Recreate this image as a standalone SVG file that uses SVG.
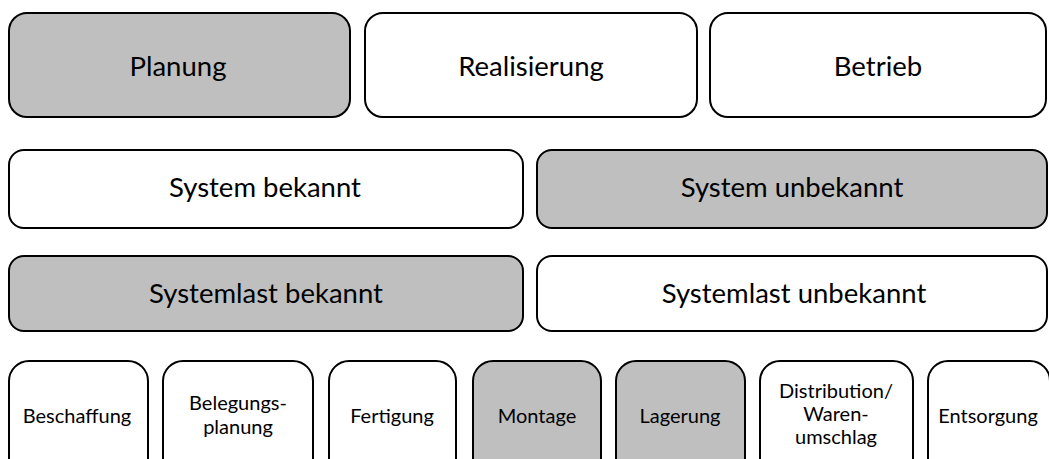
<svg xmlns="http://www.w3.org/2000/svg" width="1049" height="459" viewBox="0 0 1049 459">
  <style>
    .box { stroke: #000; stroke-width: 2; }
    .on { fill: #bfbfbf; }
    .off { fill: #ffffff; }
    text { font-family: Lato, "Open Sans", sans-serif; fill: #000; text-anchor: middle; }
    .big { font-size: 27.5px; }
    .small { font-size: 20px; }
  </style>
  <rect width="1049" height="459" fill="#fff"/>

  <!-- phases -->
  <g id="planung"><rect class="box on" x="9" y="13" width="341" height="104" rx="18"/><text class="big" x="178" y="76">Planung</text></g>
  <g id="realisierung"><rect class="box off" x="365" y="13" width="332" height="104" rx="18"/><text class="big" x="531" y="76">Realisierung</text></g>
  <g id="betrieb"><rect class="box off" x="710" y="13" width="336" height="104" rx="18"/><text class="big" x="878" y="76">Betrieb</text></g>

  <!-- system -->
  <g id="system-bekannt"><rect class="box off" x="9" y="150" width="514" height="78" rx="15"/><text class="big" x="265" y="197">System bekannt</text></g>
  <g id="system-unbekannt"><rect class="box on" x="537" y="150" width="510" height="78" rx="15"/><text class="big" x="792" y="197">System unbekannt</text></g>

  <!-- system load -->
  <g id="systemlast-bekannt"><rect class="box on" x="9" y="256" width="514" height="75" rx="15"/><text class="big" x="266" y="303">Systemlast bekannt</text></g>
  <g id="systemlast-unbekannt"><rect class="box off" x="537" y="256" width="510" height="75" rx="15"/><text class="big" x="794" y="303">Systemlast unbekannt</text></g>

  <!-- logistics areas -->
  <g id="beschaffung"><rect class="box off" x="9" y="361" width="139" height="130" rx="20"/><text class="small" x="77" y="423">Beschaffung</text></g>
  <g id="belegungsplanung"><rect class="box off" x="163" y="361" width="150" height="130" rx="20"/><text class="small" x="238" y="410">Belegungs-</text><text class="small" x="238" y="434">planung</text></g>
  <g id="fertigung"><rect class="box off" x="329" y="361" width="127" height="130" rx="20"/><text class="small" x="392" y="423">Fertigung</text></g>
  <g id="montage"><rect class="box on" x="473" y="361" width="128" height="130" rx="20"/><text class="small" x="537" y="423">Montage</text></g>
  <g id="lagerung"><rect class="box on" x="616" y="361" width="129" height="130" rx="20"/><text class="small" x="680" y="423">Lagerung</text></g>
  <g id="distribution"><rect class="box off" x="760" y="361" width="153" height="130" rx="20"/><text class="small" x="836" y="398">Distribution/</text><text class="small" x="836" y="421">Waren-</text><text class="small" x="836" y="444">umschlag</text></g>
  <g id="entsorgung"><rect class="box off" x="928" y="361" width="122" height="130" rx="20"/><text class="small" x="988" y="423">Entsorgung</text></g>

  <g id="connectors"/>
</svg>
